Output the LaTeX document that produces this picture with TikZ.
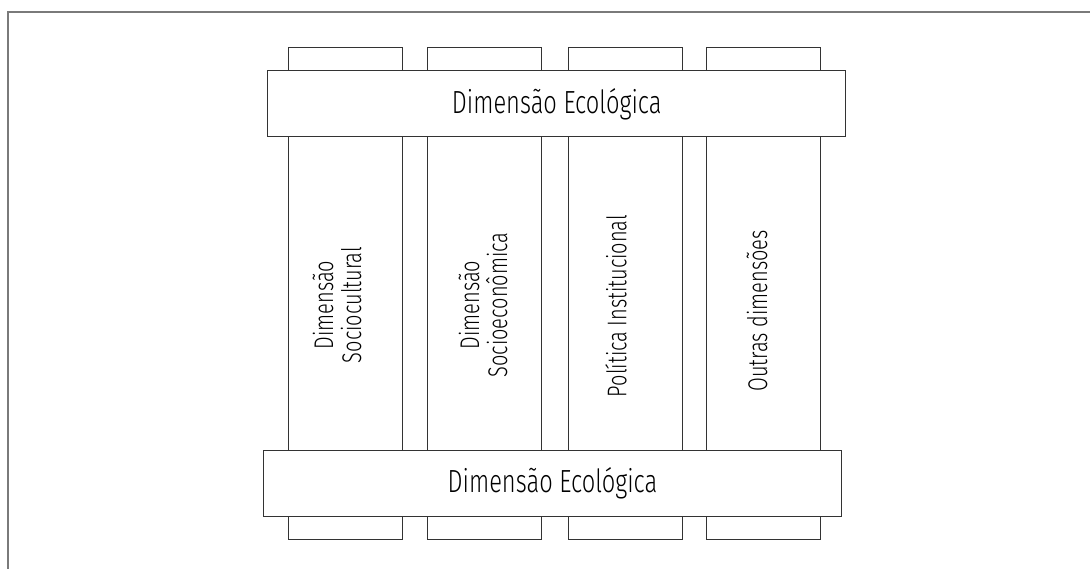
\documentclass[tikz,border=0pt]{standalone}
\usepackage{fontspec}
\setmainfont{Fira Sans Light}[FakeStretch=0.74]
\usepackage{tikz}
\usetikzlibrary{positioning}
\usepackage{xcolor}
\definecolor{FrameGray}{HTML}{7a7a7a}
\definecolor{PillarLine}{HTML}{333333}

\begin{document}
\begin{tikzpicture}[x=1pt,y=-1pt,
    pilar/.style={draw=PillarLine,line width=1pt,minimum width=114pt,minimum height=491.6pt,inner sep=0pt},
    faixa/.style={draw=PillarLine,fill=white,line width=1pt,minimum width=578pt,minimum height=65.8pt,inner sep=0pt,font=\fontsize{32}{36}\selectfont},
    rotulo/.style={rotate=90,align=center,inner sep=0pt,font=\fontsize{27}{28}\selectfont}]
   \useasboundingbox (0,0) rectangle (1090,569);
   \coordinate (FA) at (1090,12);
   \coordinate (FB) at (8,12);
   \coordinate (FC) at (8,569);
   \draw[FrameGray,line width=1.2pt] (FA) -- (FB) -- (FC);

   \foreach \x/\name in {345/P1,484/P2,625/P3,763/P4} {
    \node[pilar] (\name) at (\x,293.5) {};
   }
   \node[faixa] (EcoTop) at (556.7,103.9) {Dimensão Ecológica};
   \node[faixa] (EcoBot) at (552.5,483.7) {Dimensão Ecológica};

   \node[rotulo] (L1) at (337,305) {Dimensão\\Sociocultural};
   \node[rotulo] (L2) at (483,305) {Dimensão\\Socioeconômica};
   \node[rotulo] (L3) at (616,306) {Política Institucional};
   \node[rotulo] (L4) at (757,311) {Outras dimensões};
  \end{tikzpicture}
\end{document}
